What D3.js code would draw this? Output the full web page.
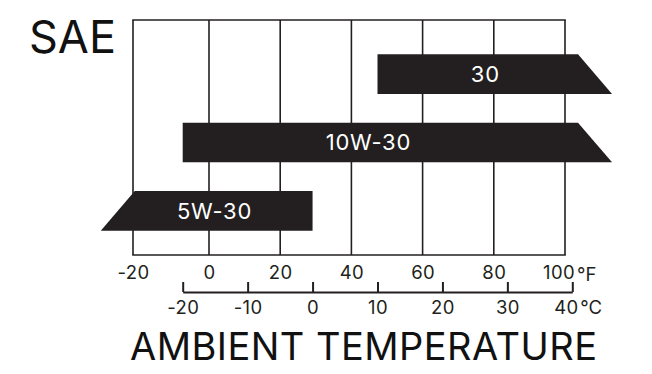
<!DOCTYPE html>
<html>
<head>
<meta charset="utf-8">
<script src="https://cdn.jsdelivr.net/npm/d3@7"></script>
<style>
  body { margin: 0; background: #fff; }
  text { font-family: "Inter", "Lato", sans-serif; }
</style>
</head>
<body>
<svg width="652" height="374"></svg>
<script>
// SAE oil grade vs ambient temperature
const grades = ["30", "10W-30", "5W-30"];
const lowC = [10, -20, -30];          // bar start, deg C
const highC = [43.5, 43.5, 0];        // bar end, deg C
const openLow = [false, false, true];
const openHigh = [true, true, false];
const labelC = [26.6, 8.6, -15.1];    // where the grade text sits
const fTicks = [-20, 0, 20, 40, 60, 80, 100];
const cTicks = [-20, -10, 0, 10, 20, 30, 40];

const svg = d3.select("svg");
const ink = "#231f20";
const gridTop = 20, gridBottom = 255;

// fahrenheit grid (first column is drawn a bit wider in the original)
const xF = d3.scaleLinear().domain([-20, 0, 100]).range([133, 209, 565]);
const xC = d3.scaleLinear().domain([-20, 40]).range([182.7, 572.3]);
const y = d3.scaleBand().domain(grades).range([40, 245])
  .paddingInner(0.42).paddingOuter(0.21);

// grid
svg.append("g").selectAll("line")
  .data(fTicks)
  .enter().append("line")
  .attr("x1", d => xF(d)).attr("x2", d => xF(d))
  .attr("y1", gridTop).attr("y2", gridBottom)
  .attr("stroke", ink).attr("stroke-width", 1.6);
svg.append("line")
  .attr("x1", xF(-20) - 0.8).attr("x2", xF(100) + 0.8)
  .attr("y1", gridTop).attr("y2", gridTop)
  .attr("stroke", ink).attr("stroke-width", 1.6);
svg.append("line")
  .attr("x1", xF(-20) - 0.8).attr("x2", xF(100) + 0.8)
  .attr("y1", gridBottom).attr("y2", gridBottom)
  .attr("stroke", ink).attr("stroke-width", 1.6);

// bars
const slant = 17;
const bars = grades.map((g, i) => ({ g, lo: lowC[i], hi: highC[i], ol: openLow[i], oh: openHigh[i], lab: labelC[i] }));
svg.append("g").selectAll("path")
  .data(bars)
  .enter().append("path")
  .attr("fill", ink)
  .attr("d", d => {
    const y0 = y(d.g), y1 = y(d.g) + y.bandwidth();
    const l = xC(d.lo), r = xC(d.hi);
    const lt = d.ol ? l + slant : l, lb = d.ol ? l - slant : l;
    const rt = d.oh ? r - slant : r, rb = d.oh ? r + slant : r;
    return `M${lt},${y0}L${rt},${y0}L${rb},${y1}L${lb},${y1}Z`;
  });
svg.append("g").selectAll("text")
  .data(bars)
  .enter().append("text")
  .attr("x", d => xC(d.lab))
  .attr("y", d => y(d.g) + y.bandwidth() / 2)
  .attr("dy", "0.36em")
  .attr("text-anchor", "middle")
  .attr("fill", "#fff")
  .attr("font-size", 22)
  .attr("letter-spacing", 0.8)
  .text(d => d.g);

// fahrenheit labels
const fAxis = svg.append("g")
  .attr("transform", `translate(0,${gridBottom})`)
  .call(d3.axisBottom(xF).tickValues(fTicks).tickSize(0).tickPadding(11)
    .tickFormat(d => String(d)));
fAxis.select(".domain").remove();
fAxis.selectAll("text").attr("font-size", 18.5).attr("fill", ink)
  .attr("font-family", null).attr("letter-spacing", 0.4);
fAxis.select(".tick:last-of-type text").attr("dx", "-0.35em");
svg.append("text")
  .attr("x", xF(100) + 12).attr("y", gridBottom + 26)
  .attr("font-size", 18.5).attr("fill", ink)
  .text("°F");

// celsius axis
const cAxis = svg.append("g")
  .attr("transform", "translate(0,292)")
  .call(d3.axisBottom(xC).tickValues(cTicks).tickSize(-10).tickSizeOuter(0)
    .tickPadding(9).tickFormat(d => String(d)));
cAxis.select(".domain").attr("stroke", ink).attr("stroke-width", 2);
cAxis.selectAll(".tick line").attr("stroke", ink).attr("stroke-width", 2);
cAxis.selectAll("text").attr("font-size", 18.5).attr("fill", ink)
  .attr("font-family", null).attr("letter-spacing", 0.4);
cAxis.select(".tick:last-of-type text").attr("dx", "-0.35em");
svg.append("text")
  .attr("x", xC(40) + 8).attr("y", 314)
  .attr("font-size", 18.5).attr("fill", ink)
  .text("°C");

// titles
svg.append("text")
  .attr("x", 29).attr("y", 53)
  .attr("font-size", 45).attr("fill", "#111")
  .text("SAE");
svg.append("text")
  .attr("x", 130).attr("y", 360)
  .attr("font-size", 38).attr("fill", "#111")
  .attr("textLength", 467).attr("lengthAdjust", "spacing")
  .text("AMBIENT TEMPERATURE");
</script>
</body>
</html>
